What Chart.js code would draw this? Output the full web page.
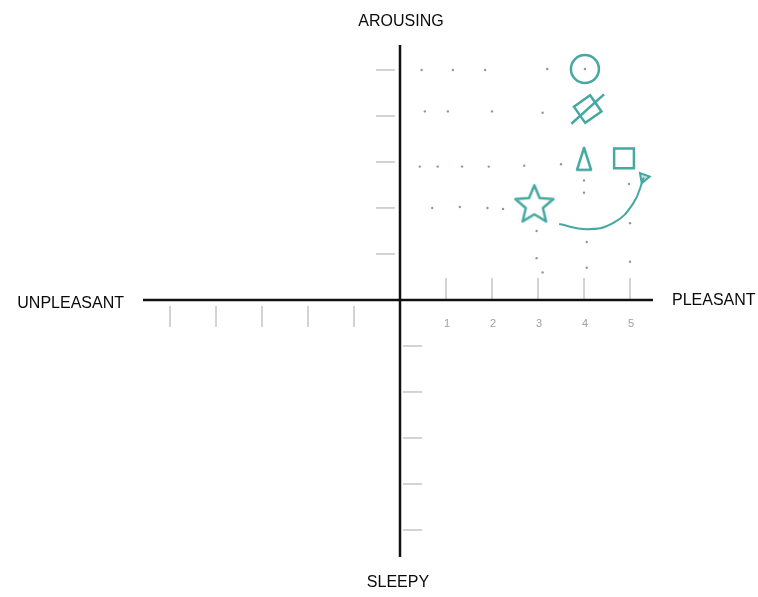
<!DOCTYPE html>
<meta charset="UTF-8">
<title>Affect grid</title>
<script src="https://cdn.jsdelivr.net/npm/chart.js"></script>
<style>
  body { margin: 0; background: #fff; }
  canvas { display: block; }
</style>
<html>
<body>
<canvas id="gridChart" width="758" height="597"></canvas>
<script>
// axis words
var topLabel = 'AROUSING';
var bottomLabel = 'SLEEPY';
var leftLabel = 'UNPLEASANT';
var rightLabel = 'PLEASANT';

// ticks along each half axis
var tickValues = [1, 2, 3, 4, 5];
var tickLabels = ['1', '2', '3', '4', '5'];

// small pencil dots
var dotX = [0.47, 1.15, 1.85, 3.2, 4.02,
            0.54, 1.04, 2.0, 3.1,
            0.43, 0.82, 1.35, 1.93, 2.7, 3.5,
            4.0, 4.0, 4.98,
            0.7, 1.3, 1.9, 2.24,
            2.97, 5.0, 4.06, 2.97, 5.0, 4.06, 3.1];
var dotY = [5.0, 5.0, 5.0, 5.02, 5.02,
            4.1, 4.1, 4.1, 4.07,
            2.9, 2.9, 2.9, 2.9, 2.92, 2.95,
            2.6, 2.33, 2.52,
            2.0, 2.02, 2.0, 1.98,
            1.5, 1.67, 1.26, 0.91, 0.83, 0.7, 0.6];

// drawn symbols
var shapeNames = ['circle', 'diamond', 'triangle', 'square', 'star'];
var shapeX = [4.02, 4.08, 4.0, 4.87, 2.92];
var shapeY = [5.02, 4.15, 3.07, 3.08, 2.08];

// curved arrow
var arrowX = [3.46, 4.06, 4.63, 5.07, 5.3];
var arrowY = [1.65, 1.54, 1.67, 2.1, 2.66];

var teal = '#45a8a2';

function starImage(size){
    var c = document.createElement('canvas');
    c.width = size; c.height = size;
    var g = c.getContext('2d');
    var cx = size/2, cy = size/2 + 1, ro = size/2 - 2, ri = ro*0.45;
    g.beginPath();
    for(var i = 0; i < 10; i++){
        var r = i % 2 ? ri : ro;
        var a = -Math.PI/2 + i*Math.PI/5;
        g.lineTo(cx + r*Math.cos(a), cy + r*Math.sin(a));
    }
    g.closePath();
    g.strokeStyle = teal;
    g.lineWidth = 2.5;
    g.lineJoin = 'round';
    g.stroke();
    return c;
}

function tallTriangle(w, h){
    var c = document.createElement('canvas');
    c.width = w; c.height = h;
    var g = c.getContext('2d');
    g.beginPath();
    g.moveTo(w/2, 2);
    g.lineTo(w - 2, h - 2);
    g.lineTo(2, h - 2);
    g.closePath();
    g.strokeStyle = teal;
    g.lineWidth = 2.5;
    g.lineJoin = 'round';
    g.stroke();
    return c;
}

function pt(xs, ys, i){ return {x: xs[i], y: ys[i]}; }

var styles = {
    circle: {pointStyle: 'circle', radius: 14, rotation: 0},
    diamond: {pointStyle: 'rect', radius: 14, rotation: -35},
    triangle: {pointStyle: tallTriangle(18, 26), radius: 12, rotation: 0},
    square: {pointStyle: 'rect', radius: 14, rotation: 0},
    star: {pointStyle: starImage(44), radius: 22, rotation: 0}
};

var datasets = [];

datasets.push({
    label: 'dots',
    data: dotX.map(function(v, i){ return pt(dotX, dotY, i); }),
    pointRadius: 1.2,
    pointBackgroundColor: '#8a9a98',
    pointBorderWidth: 0
});

shapeNames.forEach(function(name, i){
    var s = styles[name];
    datasets.push({
        label: name,
        data: [pt(shapeX, shapeY, i)],
        pointStyle: s.pointStyle,
        pointRadius: s.radius,
        rotation: s.rotation,
        pointBorderColor: teal,
        pointBackgroundColor: 'rgba(0,0,0,0)',
        pointBorderWidth: 2.5
    });
});

// the slash through the diamond
datasets.push({
    label: 'slash',
    data: [pt(shapeX, shapeY, 1)],
    pointStyle: 'line',
    pointRadius: 22,
    rotation: -42,
    pointBorderColor: teal,
    pointBorderWidth: 2.5
});

datasets.push({
    label: 'arrow',
    type: 'line',
    data: arrowX.map(function(v, i){ return pt(arrowX, arrowY, i); }),
    borderColor: teal,
    borderWidth: 2,
    tension: 0.45,
    pointRadius: 0,
    fill: false
});

datasets.push({
    label: 'arrowhead',
    data: [pt(arrowX, arrowY, arrowX.length - 1)],
    pointStyle: 'triangle',
    pointRadius: 6,
    rotation: 200,
    pointBorderColor: teal,
    pointBackgroundColor: 'rgba(69,168,162,0.35)',
    pointBorderWidth: 2
});

var quadrantAxes = {
    id: 'quadrantAxes',
    beforeDatasetsDraw: function(chart){
        var ctx = chart.ctx, xs = chart.scales.x, ys = chart.scales.y, area = chart.chartArea;
        var ox = xs.getPixelForValue(0), oy = ys.getPixelForValue(0);
        ctx.save();
        // ticks
        ctx.strokeStyle = '#a8a8a8';
        ctx.lineWidth = 1;
        tickValues.forEach(function(v){
            var px = xs.getPixelForValue(v), nx = xs.getPixelForValue(-v);
            var py = ys.getPixelForValue(v), ny = ys.getPixelForValue(-v);
            ctx.beginPath();
            ctx.moveTo(px, oy - 22); ctx.lineTo(px, oy - 1);
            ctx.moveTo(nx, oy + 6); ctx.lineTo(nx, oy + 27);
            ctx.moveTo(ox - 24, py); ctx.lineTo(ox - 5, py);
            ctx.moveTo(ox + 3, ny); ctx.lineTo(ox + 22, ny);
            ctx.stroke();
        });
        ctx.fillStyle = '#a0a0a0';
        ctx.font = '11px "Liberation Sans", Arial, sans-serif';
        ctx.textAlign = 'center';
        ctx.textBaseline = 'middle';
        tickValues.forEach(function(v, i){
            ctx.fillText(tickLabels[i], xs.getPixelForValue(v) + 1, oy + 24);
        });
        // main axes
        ctx.strokeStyle = '#111';
        ctx.lineWidth = 2.5;
        ctx.beginPath();
        ctx.moveTo(area.left, oy); ctx.lineTo(area.right, oy);
        ctx.moveTo(ox, area.top); ctx.lineTo(ox, area.bottom);
        ctx.stroke();
        // axis words
        ctx.fillStyle = '#0a0a0a';
        ctx.font = '16px "Liberation Sans", Arial, sans-serif';
        ctx.textAlign = 'center';
        ctx.fillText(topLabel, ox + 1, area.top - 23);
        ctx.fillText(bottomLabel, ox - 2, area.bottom + 26);
        ctx.textAlign = 'right';
        ctx.fillText(leftLabel, area.left - 19, oy + 4);
        ctx.textAlign = 'left';
        ctx.fillText(rightLabel, area.right + 19, oy + 1);
        ctx.restore();
    }
};

new Chart(document.getElementById('gridChart').getContext('2d'), {
    type: 'scatter',
    data: {datasets: datasets},
    options: {
        responsive: false,
        animation: false,
        layout: {padding: {left: 143, right: 105, top: 45, bottom: 40}},
        scales: {
            x: {type: 'linear', min: -5.587, max: 5.5, display: false},
            y: {type: 'linear', min: -5.587, max: 5.543, display: false}
        },
        plugins: {
            legend: {display: false},
            tooltip: {enabled: false}
        }
    },
    plugins: [quadrantAxes]
});
</script>
</body>
</html>
